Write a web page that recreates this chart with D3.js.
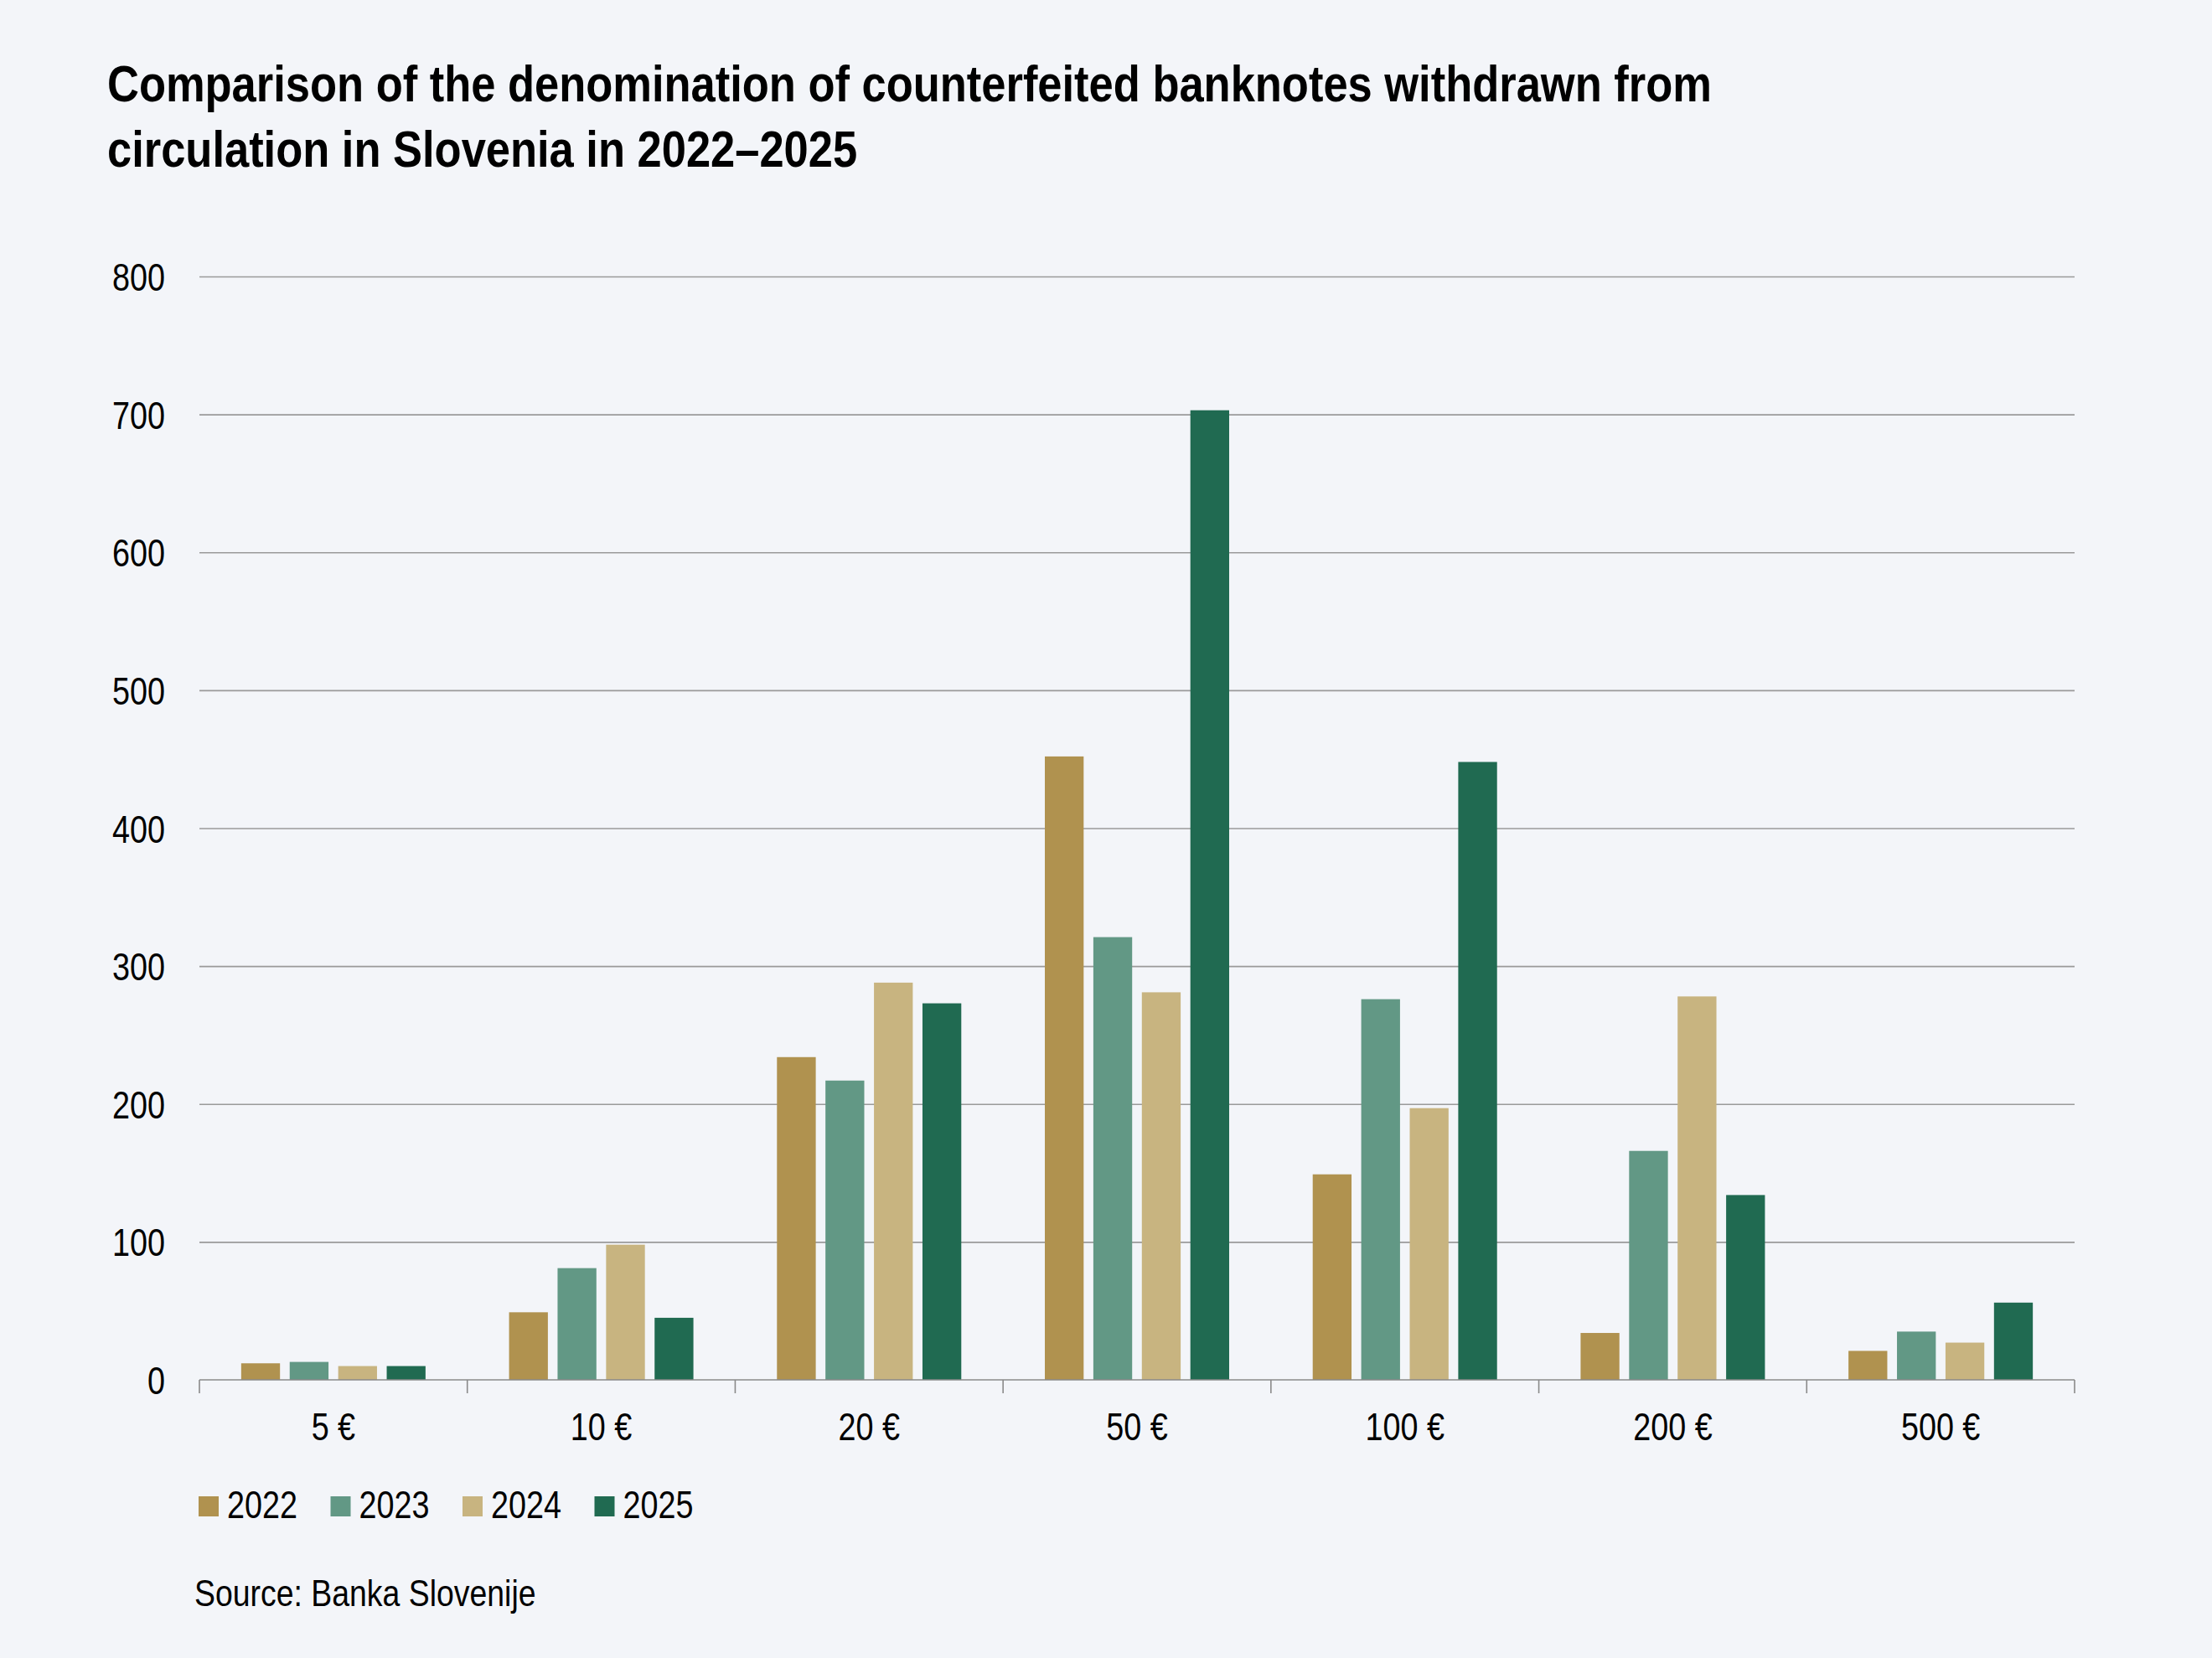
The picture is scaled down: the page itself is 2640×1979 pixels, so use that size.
<!DOCTYPE html>
<html lang="en">

<head>
    <meta charset="utf-8">
    <title>Counterfeited banknotes in Slovenia</title>
    <script type="text/javascript" src="https://cdn.jsdelivr.net/npm/d3@7/dist/d3.min.js"></script>
    <style>
        body { margin: 0; background: #f3f5f9; }
        svg { display: block; }
        text { font-family: "Liberation Sans", Arial, sans-serif; fill: #000; }
    </style>
</head>

<body>

    <script type="text/javascript">
        var denominations = ["5 €", "10 €", "20 €", "50 €", "100 €", "200 €", "500 €"];
        var years = ["2022", "2023", "2024", "2025"];
        var values2022 = [12, 49, 234, 452, 149, 34, 21];
        var values2023 = [13, 81, 217, 321, 276, 166, 35];
        var values2024 = [10, 98, 288, 281, 197, 278, 27];
        var values2025 = [10, 45, 273, 703, 448, 134, 56];
        var yTicks = [0, 100, 200, 300, 400, 500, 600, 700, 800];
        var colors = ["#b0924f", "#629885", "#c8b480", "#206a51"];

        var series = [values2022, values2023, values2024, values2025];

        var w = 2640;
        var h = 1979;
        var plotLeft = 238, plotRight = 2476, plotTop = 330, plotBottom = 1647;

        // no narrow font installed, so squeeze the glyphs horizontally
        function condense(sel, k) {
            sel.each(function() {
                var len = this.getComputedTextLength();
                d3.select(this)
                    .attr("textLength", len * k)
                    .attr("lengthAdjust", "spacingAndGlyphs");
            });
        }

        var svg = d3.select("body")
            .append("svg")
            .attr("width", w)
            .attr("height", h);

        svg.append("rect")
            .attr("width", w)
            .attr("height", h)
            .attr("fill", "#f3f5f9");

        // title
        var title = svg.append("text")
            .attr("font-size", "61px")
            .attr("font-weight", "bold");
        title.append("tspan").attr("x", 128).attr("y", 121)
            .text("Comparison of the denomination of counterfeited banknotes withdrawn from");
        title.append("tspan").attr("x", 128).attr("y", 199)
            .text("circulation in Slovenia in 2022–2025");
        condense(title.selectAll("tspan"), 0.86);

        var x0 = d3.scaleBand()
            .domain(denominations)
            .range([plotLeft, plotRight]);

        var x1 = d3.scaleBand()
            .domain(years)
            .range([0, 220])
            .paddingInner(0.2);

        var y = d3.scaleLinear()
            .domain([0, 800])
            .range([plotBottom, plotTop]);

        // gridlines + y labels
        svg.append("g")
            .attr("transform", "translate(" + plotLeft + ",0)")
            .call(d3.axisLeft(y).tickValues(yTicks).tickSize(-(plotRight - plotLeft)).tickPadding(41))
            .call(function(g) {
                g.select(".domain").remove();
                g.selectAll(".tick line")
                    .attr("stroke", "#9a9a9a")
                    .attr("stroke-width", 1.6)
                    .filter(function(d) { return d === 0; }).remove();
                g.selectAll(".tick text")
                    .attr("font-size", "46px")
                    .attr("font-family", null)
                    .attr("fill", "#000")
                    .attr("dy", "0.36em");
            });
        condense(svg.selectAll(".tick text"), 0.82);

        // bars
        var groups = svg.selectAll("g.group")
            .data(denominations)
            .enter()
            .append("g")
            .attr("class", "group")
            .attr("transform", function(d) {
                return "translate(" + (x0(d) + (x0.bandwidth() - 220) / 2) + ",0)";
            });

        groups.selectAll("rect")
            .data(function(d, i) {
                return years.map(function(yr, j) {
                    return { year: yr, value: series[j][i], color: colors[j] };
                });
            })
            .enter()
            .append("rect")
            .attr("x", function(d) { return x1(d.year); })
            .attr("y", function(d) { return y(d.value); })
            .attr("width", x1.bandwidth())
            .attr("height", function(d) { return plotBottom - y(d.value); })
            .attr("fill", function(d) { return d.color; });

        // x axis with ticks at category boundaries
        var xAxis = svg.append("g")
            .attr("transform", "translate(0," + plotBottom + ")");
        xAxis.append("line")
            .attr("x1", plotLeft).attr("x2", plotRight)
            .attr("stroke", "#8a8a8a")
            .attr("stroke-width", 1.6);
        var bounds = denominations.map(function(d) { return x0(d); }).concat([plotRight]);
        xAxis.selectAll("line.tk")
            .data(bounds)
            .enter()
            .append("line")
            .attr("class", "tk")
            .attr("x1", function(d) { return d; })
            .attr("x2", function(d) { return d; })
            .attr("y1", 0)
            .attr("y2", 16)
            .attr("stroke", "#8a8a8a")
            .attr("stroke-width", 1.6);
        var xLabels = xAxis.selectAll("text")
            .data(denominations)
            .enter()
            .append("text")
            .attr("x", function(d) { return x0(d) + x0.bandwidth() / 2; })
            .attr("y", 72)
            .attr("text-anchor", "middle")
            .attr("font-size", "46px")
            .text(function(d) { return d; });
        condense(xLabels, 0.82);

        // legend
        var legend = svg.selectAll("g.legend")
            .data(years)
            .enter()
            .append("g")
            .attr("class", "legend")
            .attr("transform", function(d, i) {
                return "translate(" + (237 + i * 157.5) + ",1786)";
            });
        legend.append("rect")
            .attr("width", 24)
            .attr("height", 24)
            .attr("fill", function(d, i) { return colors[i]; });
        var legendText = legend.append("text")
            .attr("x", 34)
            .attr("y", 26)
            .attr("font-size", "46px")
            .text(function(d) { return d; });
        condense(legendText, 0.82);

        // source
        var source = svg.append("text")
            .attr("x", 232)
            .attr("y", 1917)
            .attr("font-size", "44px")
            .text("Source: Banka Slovenije");
        condense(source, 0.85);
    </script>
</body>

</html>
